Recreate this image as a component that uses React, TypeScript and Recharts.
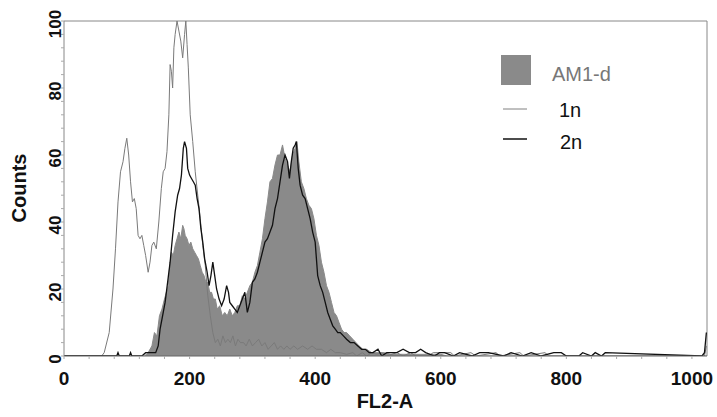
import { ComposedChart, Area, Line, XAxis, YAxis, ReferenceLine } from 'recharts';

// FL2-A channel / counts for each histogram
const am1dChannel = [0, 128, 134, 140, 144, 148, 152, 156, 160, 163, 166, 168, 171, 174, 177, 180, 183, 186, 189, 191, 193, 196, 199, 202, 205, 208, 211, 214, 217, 220, 223, 226, 229, 232, 235, 238, 241, 244, 248, 252, 256, 260, 264, 268, 272, 276, 280, 284, 288, 292, 296, 300, 304, 308, 312, 316, 320, 324, 328, 332, 336, 340, 344, 348, 352, 356, 360, 364, 368, 371, 374, 378, 382, 386, 390, 394, 398, 402, 406, 410, 414, 418, 422, 426, 430, 434, 438, 442, 446, 450, 455, 460, 465, 470, 476, 482, 490, 500, 510, 520, 540, 560, 580, 600, 610, 1024];
const am1dCount = [0, 0, 1, 3, 7, 6, 12, 14, 17, 19, 21, 26, 31, 30, 33, 35, 37, 35, 39, 38, 36, 35, 33, 34, 32, 31, 30, 29, 27, 25, 24, 22, 22, 19, 19, 17, 17, 14, 15, 12, 13, 12, 14, 12, 13, 15, 15, 18, 17, 19, 21, 22, 25, 27, 31, 35, 41, 46, 52, 53, 57, 60, 60, 63, 59, 57, 55, 60, 62, 64, 58, 52, 50, 47, 45, 44, 41, 36, 33, 28, 25, 21, 19, 16, 13, 12, 10, 8, 7, 7, 6, 5, 4, 3, 2, 2, 1, 1, 1, 0.5, 0.5, 0.5, 0.5, 0.5, 0, 0];

const oneNChannel = [0, 60, 64, 72, 78, 82, 86, 90, 94, 97, 100, 103, 106, 109, 112, 115, 118, 121, 124, 127, 130, 134, 137, 140, 143, 147, 151, 155, 158, 161, 164, 167, 169, 171, 173, 175, 177, 180, 183, 186, 189, 192, 194, 196, 198, 201, 205, 209, 213, 217, 221, 225, 229, 233, 237, 241, 245, 249, 253, 257, 261, 265, 269, 273, 277, 281, 286, 290, 295, 300, 305, 310, 315, 320, 325, 330, 335, 340, 345, 350, 355, 360, 366, 372, 380, 388, 395, 402, 410, 418, 425, 432, 440, 450, 460, 466, 475, 482, 490, 498, 506, 514, 530, 540, 552, 560, 580, 588, 616, 622, 648, 656, 688, 694, 726, 732, 766, 772, 800, 1016, 1020, 1023];
const oneNCount = [0, 0, 1, 7, 20, 32, 46, 55, 58, 62, 65, 60, 52, 46, 47, 44, 36, 35, 36, 33, 30, 25, 28, 33, 34, 32, 40, 50, 55, 56, 61, 72, 87, 85, 80, 92, 96, 100, 97, 94, 89, 96, 100, 93, 86, 72, 64, 55, 48, 41, 33, 27, 18, 12, 7, 4, 5, 3, 6, 4, 5, 4, 6, 3, 5, 4, 4, 3, 5, 3, 4, 5, 3, 4, 2, 3, 4, 2, 3, 2, 3, 2, 3, 2, 3, 2, 3, 2, 2, 1, 2, 1, 1, 0.5, 1, 0, 1, 0, 1, 0.5, 1, 0, 1, 0, 1, 0, 0, 1, 1, 0, 1, 0, 1, 0, 1, 0, 1, 0, 0, 0, 0, 3];

const twoNChannel = [0, 84, 86, 88, 104, 106, 108, 124, 130, 140, 146, 150, 153, 157, 161, 165, 169, 173, 177, 181, 184, 187, 190, 192, 195, 197, 200, 203, 206, 209, 212, 215, 218, 221, 224, 228, 231, 234, 237, 240, 243, 247, 251, 255, 259, 262, 264, 268, 272, 276, 280, 284, 288, 292, 296, 300, 304, 308, 312, 316, 320, 324, 328, 332, 336, 340, 344, 348, 352, 356, 359, 362, 365, 368, 370, 373, 376, 380, 384, 388, 392, 396, 400, 404, 408, 412, 416, 420, 424, 428, 432, 436, 440, 445, 450, 456, 462, 468, 474, 480, 486, 492, 500, 506, 514, 520, 530, 540, 550, 560, 568, 576, 590, 598, 606, 620, 630, 650, 662, 676, 700, 712, 730, 744, 760, 780, 792, 800, 820, 826, 840, 846, 856, 862, 1016, 1020, 1023];
const twoNCount = [0, 0, 1, 0, 0, 1, 0, 0, 1, 1, 1, 3, 8, 12, 16, 22, 28, 36, 43, 48, 50, 54, 62, 64, 62, 56, 54, 53, 52, 51, 47, 44, 38, 34, 29, 25, 21, 24, 28, 24, 20, 17, 15, 17, 21, 19, 16, 15, 14, 13, 15, 17, 19, 13, 16, 22, 23, 25, 28, 31, 34, 35, 37, 39, 44, 47, 52, 57, 60, 58, 53, 58, 62, 63, 64, 56, 51, 48, 47, 44, 41, 37, 34, 24, 21, 19, 16, 13, 11, 9, 8, 7, 7, 6, 5, 4, 4, 3, 2, 2, 1, 1, 2, 0, 1, 1, 1, 2, 1, 1, 2, 1, 0, 1, 1, 0, 1, 0, 1, 1, 0, 1, 0, 1, 0, 1, 1, 0, 0, 1, 0, 1, 0, 1, 0, 1, 7];

const xMajor = [0, 200, 400, 600, 800, 1000];
const yMajor = [0, 20, 40, 60, 80, 100];
const xTicks = Array.from({ length: 26 }, (_, i) => i * 40);
const yTicks = Array.from({ length: 26 }, (_, i) => i * 4);

const series = [
  { key: 'am1d', channel: am1dChannel, count: am1dCount },
  { key: 'oneN', channel: oneNChannel, count: oneNCount },
  { key: 'twoN', channel: twoNChannel, count: twoNCount },
];

const rows = (() => {
  const map = new Map<number, any>();
  series.forEach((s) =>
    s.channel.forEach((ch, i) => {
      const r = map.get(ch) ?? { ch };
      r[s.key] = s.count[i];
      map.set(ch, r);
    })
  );
  return [...map.values()].sort((a, b) => a.ch - b.ch);
})();

const FONT = '"Liberation Sans", Arial, sans-serif';

const XTick = ({ x, y, payload }: any) =>
  xMajor.includes(payload.value) ? (
    <text x={x} y={y + 24} textAnchor="middle" fontFamily={FONT} fontWeight="bold" fontSize={19} fill="#111">
      {payload.value}
    </text>
  ) : null;

const YTick = ({ x, y, payload }: any) =>
  yMajor.includes(payload.value) ? (
    <text
      x={x + 2}
      y={y + 3}
      transform={`rotate(-90, ${x + 2}, ${y + 3})`}
      textAnchor="middle"
      fontFamily={FONT}
      fontWeight="bold"
      fontSize={17}
      fill="#111"
    >
      {payload.value}
    </text>
  ) : null;

export default function App() {
  return (
    <div style={{ position: 'absolute', left: 0, top: 0, width: 717, height: 417, background: '#fff' }}>
      <ComposedChart width={717} height={417} data={rows} margin={{ top: 21, right: 10, bottom: 21, left: 14 }}>
        <XAxis
          dataKey="ch"
          type="number"
          domain={[0, 1024]}
          ticks={xTicks}
          interval={0}
          allowDataOverflow
          height={40}
          tick={<XTick />}
          tickSize={3}
          tickLine={{ stroke: '#aaa' }}
          axisLine={{ stroke: '#666' }}
        />
        <YAxis
          type="number"
          domain={[0, 100]}
          ticks={yTicks}
          interval={0}
          allowDataOverflow
          width={50}
          tick={<YTick />}
          tickSize={3}
          tickLine={{ stroke: '#aaa' }}
          axisLine={{ stroke: '#888' }}
        />
        <ReferenceLine y={100} stroke="#888" />
        <ReferenceLine x={1024} stroke="#888" />
        <Area
          dataKey="am1d"
          type="linear"
          connectNulls
          fill="#8a8a8a"
          fillOpacity={1}
          stroke="#8a8a8a"
          strokeWidth={1}
          isAnimationActive={false}
          dot={false}
          activeDot={false}
        />
        <Line
          dataKey="oneN"
          type="linear"
          connectNulls
          stroke="#7a7a7a"
          strokeWidth={1}
          dot={false}
          activeDot={false}
          isAnimationActive={false}
        />
        <Line
          dataKey="twoN"
          type="linear"
          connectNulls
          stroke="#111"
          strokeWidth={1.3}
          dot={false}
          activeDot={false}
          isAnimationActive={false}
        />
      </ComposedChart>
      <svg width={717} height={417} style={{ position: 'absolute', left: 0, top: 0, pointerEvents: 'none' }}>
        <text x={26} y={188} transform="rotate(-90, 26, 188)" textAnchor="middle" fontFamily={FONT} fontWeight="bold" fontSize={20} fill="#111">
          Counts
        </text>
        <text x={385} y={408} textAnchor="middle" fontFamily={FONT} fontWeight="bold" fontSize={20} fill="#111">
          FL2-A
        </text>
        <rect x={501} y={55} width={30} height={30} fill="#8a8a8a" />
        <text x={552} y={81} fontFamily={FONT} fontSize={20} fill="#777">AM1-d</text>
        <line x1={503} x2={527} y1={109} y2={109} stroke="#808080" strokeWidth={1} />
        <text x={559} y={117} fontFamily={FONT} fontSize={20} fill="#111">1n</text>
        <line x1={503} x2={527} y1={139} y2={139} stroke="#111" strokeWidth={1.5} />
        <text x={560} y={149} fontFamily={FONT} fontSize={20} fill="#111">2n</text>
      </svg>
    </div>
  );
}
